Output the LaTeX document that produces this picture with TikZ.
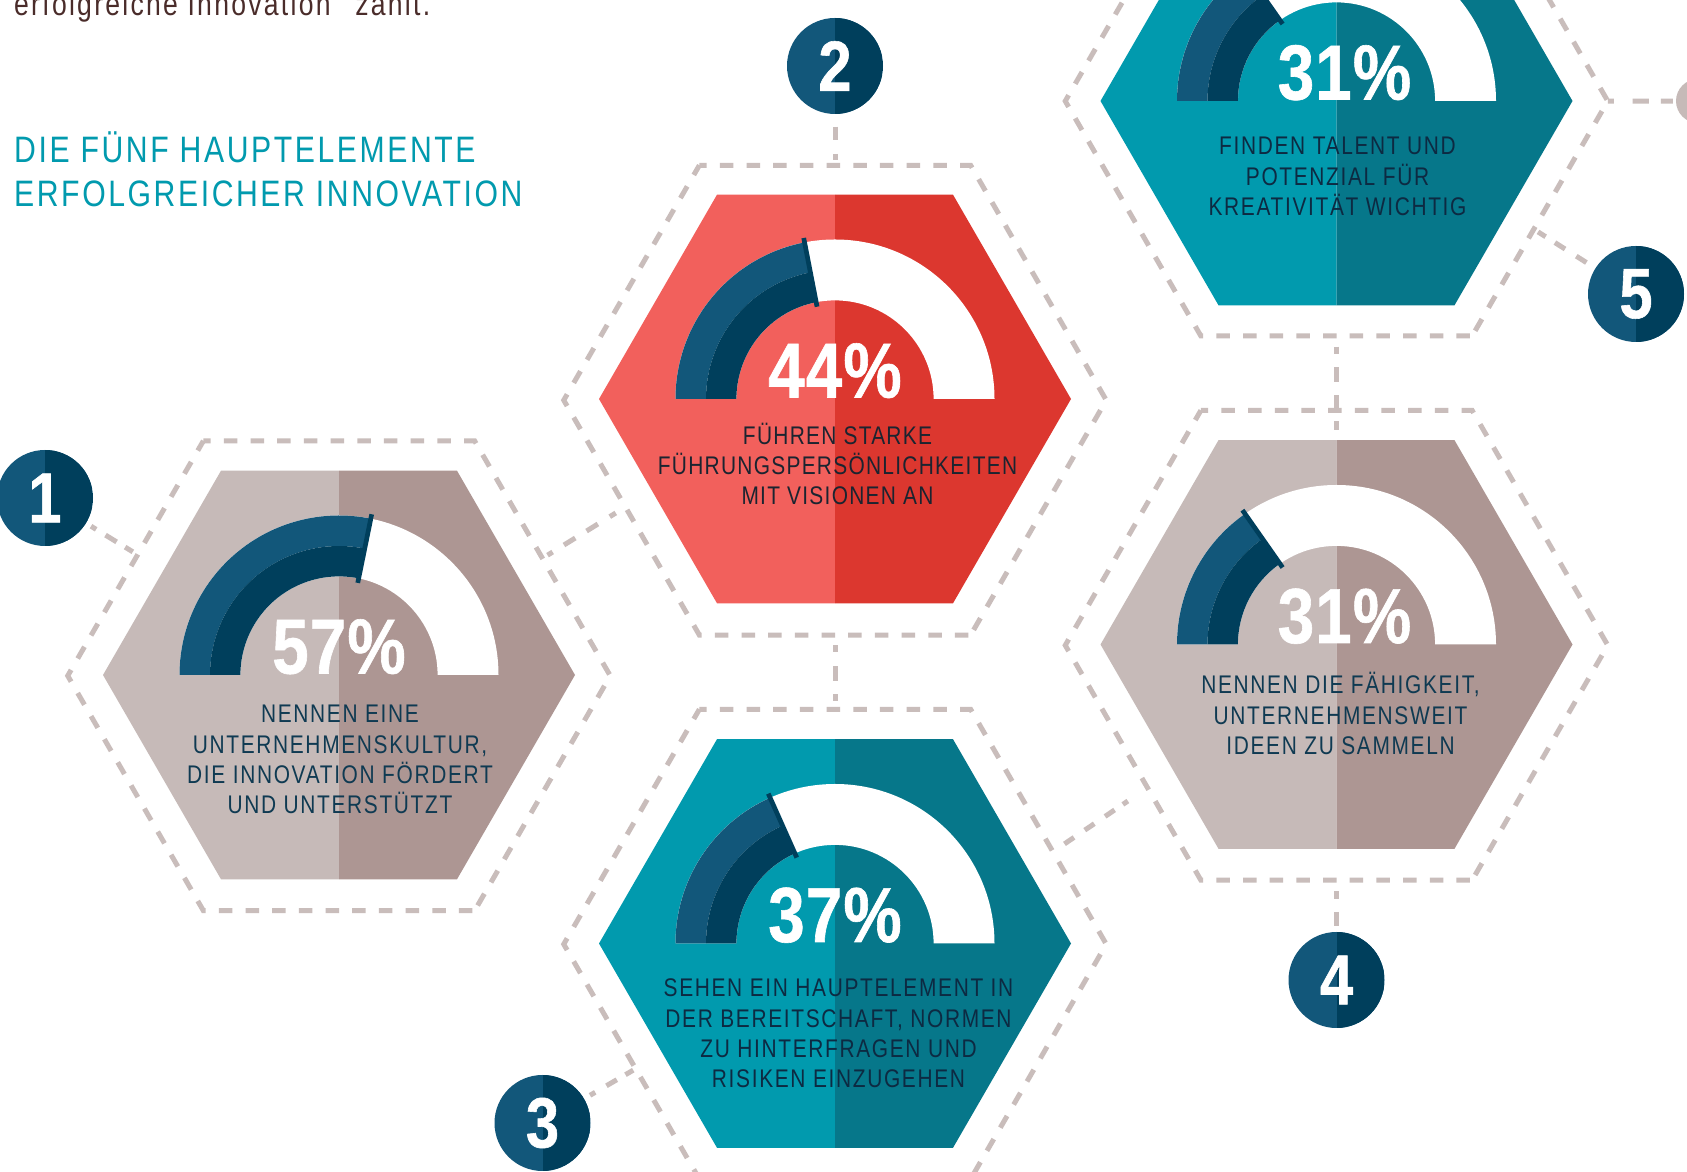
\documentclass[tikz,border=0pt]{standalone}
\usepackage{fontspec}
\usetikzlibrary{shapes.geometric}
\newfontfamily\narrow[FakeStretch=0.82,LetterSpace=6.5]{Liberation Sans}
\newfontfamily\narrowtight[FakeStretch=0.82,LetterSpace=5]{Liberation Sans}
\newfontfamily\titlefont[FakeStretch=0.82,LetterSpace=7]{Liberation Sans}
\newfontfamily\heavy[FakeStretch=0.84,FakeBold=0.8,LetterSpace=1.5]{Liberation Sans Bold}
\definecolor{gL}{HTML}{C6BAB8}
\definecolor{gD}{HTML}{AD9693}
\definecolor{rL}{HTML}{F2605C}
\definecolor{rD}{HTML}{DC372F}
\definecolor{tL}{HTML}{019AAE}
\definecolor{tD}{HTML}{06778A}
\definecolor{blueL}{HTML}{12577A}
\definecolor{blueD}{HTML}{003F5C}
\definecolor{dashcol}{HTML}{C9BDBB}
\definecolor{inkcol}{HTML}{0F3A52}
\definecolor{inkdark}{HTML}{0D2A42}
\definecolor{inkred}{HTML}{1B2430}
\definecolor{browncol}{HTML}{4A2C2A}
\tikzset{
  outerhex/.style={regular polygon,regular polygon sides=6,minimum size=542.5pt,inner sep=0pt,outer sep=0pt},
  lk/.style={draw=dashcol,line width=5pt,dash pattern=#1},
  hexline/.style={draw=dashcol,line width=5pt,dash pattern=on 13.5pt off 13.18pt},
  numdisc/.style={circle,minimum size=96pt,inner sep=0pt,outer sep=0pt,fill=blueL,text=white,
    font=\heavy\fontsize{71}{71}\selectfont,
    path picture={\fill[blueD] (path picture bounding box.north) rectangle (path picture bounding box.south east);}},
  pcttext/.style={text=white,inner sep=0pt,anchor=base,font=\heavy\fontsize{78}{78}\selectfont},
  bodytext/.style={text=inkcol,inner sep=0pt,anchor=base,align=center,font=\narrow\fontsize{25.5}{30.2}\selectfont},
  titletext/.style={text=tL,inner sep=0pt,anchor=base west,align=left,font=\titlefont\fontsize{36.8}{44}\selectfont},
}
\newcommand{\hexdash}[1]{%
  \draw[hexline,dash phase=6.18pt] (#1.120) -- (#1.60) -- (#1.0) -- (#1.300);
  \draw[hexline,dash phase=24.5pt] (#1.300) -- (#1.240) -- (#1.180) -- (#1.120);
}
% id, cx, cy, colour scheme, needle angle, percent, text x, last baseline y, text
\newcommand{\panel}[9]{%
  \begin{scope}[shift={(#2,#3)}]
    \fill[#4L] (-118,204.3) -- (0,204.3) -- (0,-204.3) -- (-118,-204.3) -- (-236,0) -- cycle;
    \fill[#4D] (0,204.3) -- (118,204.3) -- (236,0) -- (118,-204.3) -- (0,-204.3) -- cycle;
    \fill[white] (159.5,0) arc[start angle=0,end angle=180,radius=159.5] -- (-98.6,0) arc[start angle=180,end angle=0,radius=98.6] -- cycle;
    \fill[blueL] (-159.5,0) arc[start angle=180,end angle=#5,radius=159.5] -- (#5:129) arc[start angle=#5,end angle=180,radius=129] -- cycle;
    \fill[blueD] (-129,0) arc[start angle=180,end angle=#5,radius=129] -- (#5:98.6) arc[start angle=#5,end angle=180,radius=98.6] -- cycle;
    \draw[blueD,line width=4.7pt] (#5:94) -- (#5:164);
    \node[pcttext] (p#1) at (0,1.5) {#6\%};
  \end{scope}
  \node[bodytext] (t#1) at (#7,#8) {#9};
}
\begin{document}
\begin{tikzpicture}[x=1pt,y=1pt]
\useasboundingbox (0,0) rectangle (1687,1172);
\clip (0,0) rectangle (1687,1172);
\fill[white] (0,0) rectangle (1687,1172);

\node[text=browncol,inner sep=0pt,anchor=base west,font=\titlefont\fontsize{32.4}{32}\selectfont] (intro) at (14,1156) {erfolgreiche Innovation“\kern4pt{} zählt.};
\node[titletext] (title) at (14,965) {DIE FÜNF HAUPTELEMENTE\\ERFOLGREICHER INNOVATION};

\node[outerhex] (o1) at (339,496.2) {};
\node[outerhex] (o2) at (835,771.8) {};
\node[outerhex] (o3) at (835,227.8) {};
\node[outerhex] (o4) at (1336.5,526.7) {};
\node[outerhex] (o5) at (1336.5,1070.9) {};
\hexdash{o1}\hexdash{o2}\hexdash{o3}\hexdash{o4}\hexdash{o5}

\node[numdisc] (n1) at (45,674) {1};
\node[numdisc] (n2) at (835,1106) {2};
\node[numdisc] (n3) at (542.5,49) {3};
\node[numdisc] (n4) at (1336.5,192) {4};
\node[numdisc] (n5) at (1636,878) {5};
\node[circle,fill=gL,minimum size=44pt,inner sep=0pt] (g) at (1698,1071) {};
\coordinate (c45) at (1336.5,742);

\draw[lk={on 0pt off 6pt on 6pt off 11pt on 13pt off 10pt on 9pt off 40pt}] (n1) -- (o1.149.4);
\draw[lk={on 0pt off 6pt on 6pt off 13.3pt on 13.3pt off 13.3pt on 13.3pt off 14pt on 7pt off 40pt}] (o1.30.5) -- (o2.207);
\draw[lk={on 0pt off 12.7pt on 13.3pt off 14pt on 6pt off 40pt}] (n2) -- (o2.90);
\draw[lk={on 0pt off 10pt on 7.3pt off 13.7pt on 14.7pt off 13.3pt on 7pt off 40pt}] (o2.270) -- (o3.90);
\draw[lk={on 0pt off 7pt on 6pt off 13pt on 12pt off 10pt on 9pt off 40pt}] (n3) -- (o3.212.6);
\draw[lk={on 0pt off 14pt on 11.5pt off 13pt on 11.5pt off 13pt on 11.5pt off 10pt on 6pt off 40pt}] (o3.23) -- (o4.217);
\draw[lk={on 0pt off 11pt on 7.3pt off 13.4pt on 14.3pt off 40pt}] (o4.270) -- (n4);
\draw[lk={on 0pt off 10.7pt on 7.3pt off 13.3pt on 14.4pt off 13.3pt on 16pt off 10.3pt on 9.3pt off 40pt}] (o5.270) -- (c45);
\draw[lk={on 0pt off 10.7pt on 12pt off 13.3pt on 12pt off 11pt on 9pt off 40pt}] (n5) -- (o5.327.3);
\draw[lk={on 6pt off 18.8pt on 16.4pt off 12pt on 12pt off 40pt}] (o5.0) -- (g);

\panel{1}{339}{497}{g}{78.5}{57}{340}{358.4}{NENNEN EINE\\UNTERNEHMENSKULTUR,\\DIE INNOVATION FÖRDERT\\UND UNTERSTÜTZT}
\begin{scope}[bodytext/.append style={text=inkred,font=\narrowtight\fontsize{25.5}{30.2}\selectfont}]
\panel{2}{835}{773}{r}{101}{44}{837.5}{667}{FÜHREN STARKE\\FÜHRUNGSPERSÖNLICHKEITEN\\MIT VISIONEN AN}
\end{scope}
\begin{scope}[bodytext/.append style={text=inkdark}]
\panel{3}{835}{228.5}{t}{114}{37}{838.5}{84.4}{SEHEN EIN HAUPTELEMENT IN\\DER BEREITSCHAFT, NORMEN\\ZU HINTERFRAGEN UND\\RISIKEN EINZUGEHEN}
\end{scope}
\begin{scope}[pcttext/.append style={xshift=8pt}]
\panel{4}{1336.5}{527.5}{g}{125}{31}{1340.5}{417.6}{NENNEN DIE FÄHIGKEIT,\\UNTERNEHMENSWEIT\\IDEEN ZU SAMMELN}
\end{scope}
\begin{scope}[pcttext/.append style={xshift=8pt},bodytext/.append style={text=inkdark}]
\panel{5}{1336.5}{1071}{t}{125}{31}{1337.5}{956.6}{FINDEN TALENT UND\\POTENZIAL FÜR\\KREATIVITÄT WICHTIG}
\end{scope}
\end{tikzpicture}
\end{document}
